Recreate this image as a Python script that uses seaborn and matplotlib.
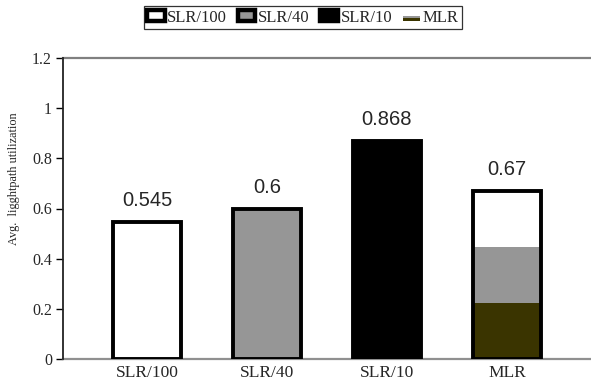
import matplotlib
matplotlib.use("Agg")
import matplotlib.pyplot as plt
from matplotlib.patches import Patch, Rectangle
from matplotlib.legend_handler import HandlerBase
import seaborn as sns
import pandas as pd

# Data
categories = ["SLR/100", "SLR/40", "SLR/10", "MLR"]
utilization = [0.545, 0.6, 0.868, 0.67]
value_labels = ["0.545", "0.6", "0.868", "0.67"]
# MLR bar split into its three constituent shares (bottom to top)
mlr_parts = [0.2233, 0.2233, 0.2234]
yticks = [0, 0.2, 0.4, 0.6, 0.8, 1, 1.2]
ytick_labels = ["0", "0.2", "0.4", "0.6", "0.8", "1", "1.2"]

WHITE = "#ffffff"
GRAY = "#969696"
BLACK = "#000000"
OLIVE = "#3a3400"
bar_colors = {"SLR/100": WHITE, "SLR/40": GRAY, "SLR/10": BLACK, "MLR": WHITE}
mlr_colors = [OLIVE, GRAY, WHITE]

sns.set_style("white")
plt.rcParams["font.family"] = ["Liberation Serif", "DejaVu Serif"]

df = pd.DataFrame({"scheme": categories, "util": utilization})

fig = plt.figure(figsize=(5.91, 3.81), dpi=100)
ax = fig.add_axes([63 / 591, 22 / 381, 1 - 63 / 591, 301 / 381])

sns.barplot(data=df, x="scheme", y="util", hue="scheme", palette=bar_colors,
            order=categories, hue_order=categories, legend=False,
            width=0.56, edgecolor=BLACK, linewidth=2.8, ax=ax, zorder=3)

# MLR bar: hollow outline over stacked shares
mlr_pos = categories.index("MLR")
bw = 0.56
for p in ax.patches:
    cx = p.get_x() + p.get_width() / 2
    if abs(cx - mlr_pos) < 0.1:
        p.set_facecolor("none")
        bw = p.get_width()
bottom = 0.0
for val, col in zip(mlr_parts, mlr_colors):
    ax.bar(mlr_pos, val, bottom=bottom, width=bw, color=col, linewidth=0, zorder=2)
    bottom += val

# value labels above bars
for i, (v, lab) in enumerate(zip(utilization, value_labels)):
    ax.annotate(lab, (i, v), xytext=(0, 11.5), textcoords="offset points",
                ha="center", va="baseline", fontsize=14.5,
                family=["Liberation Sans", "DejaVu Sans"])

ax.set_xlim(-0.7, 3.7)
ax.set_ylim(0, 1.2)
ax.set_yticks(yticks)
ax.set_yticklabels(ytick_labels, fontsize=11.5)
ax.set_xticks(range(len(categories)))
ax.set_xticklabels(categories, fontsize=12.5)
ax.set_xlabel("")
ax.set_ylabel("Avg.  ligghtpath utilization", fontsize=8.8)
ax.yaxis.set_label_coords(-0.081, 0.60)

ax.tick_params(axis="y", which="major", left=True, length=5, width=1,
               color="#000000", pad=3, direction="out")
ax.tick_params(axis="x", bottom=False, pad=0.5)

ax.spines["right"].set_visible(False)
ax.spines["left"].set_color("#222222")
ax.spines["left"].set_linewidth(1.3)
ax.spines["top"].set_color("#808080")
ax.spines["top"].set_linewidth(1.6)
ax.spines["bottom"].set_color("#909090")
ax.spines["bottom"].set_linewidth(1.6)
ax.spines["left"].set_zorder(4)


class StackedHandler(HandlerBase):
    def create_artists(self, legend, orig_handle, xdescent, ydescent,
                       width, height, fontsize, trans):
        arts = []
        h = height * 0.7 / 3.0
        for k, col in enumerate(mlr_colors):
            r = Rectangle((-xdescent, -ydescent + k * h), width, h,
                          facecolor=col, edgecolor="none", transform=trans)
            arts.append(r)
        return arts


class MLRKey:
    pass


handles = [
    Patch(facecolor=WHITE, edgecolor=BLACK, linewidth=3.2),
    Patch(facecolor=GRAY, edgecolor=BLACK, linewidth=3.2),
    Patch(facecolor=BLACK, edgecolor=BLACK, linewidth=3.2),
    MLRKey(),
]
leg = fig.legend(handles, categories, loc="center",
                 bbox_to_anchor=(303 / 591, 1 - 17.5 / 381), ncol=4,
                 frameon=True, fancybox=False, fontsize=12,
                 handlelength=1.05, handleheight=0.6, handletextpad=0.15,
                 columnspacing=0.65, borderpad=0.2, borderaxespad=0,
                 handler_map={MLRKey: StackedHandler()})
leg.get_frame().set_edgecolor("#000000")
leg.get_frame().set_linewidth(0.9)

fig.savefig("out.png", dpi=100)
